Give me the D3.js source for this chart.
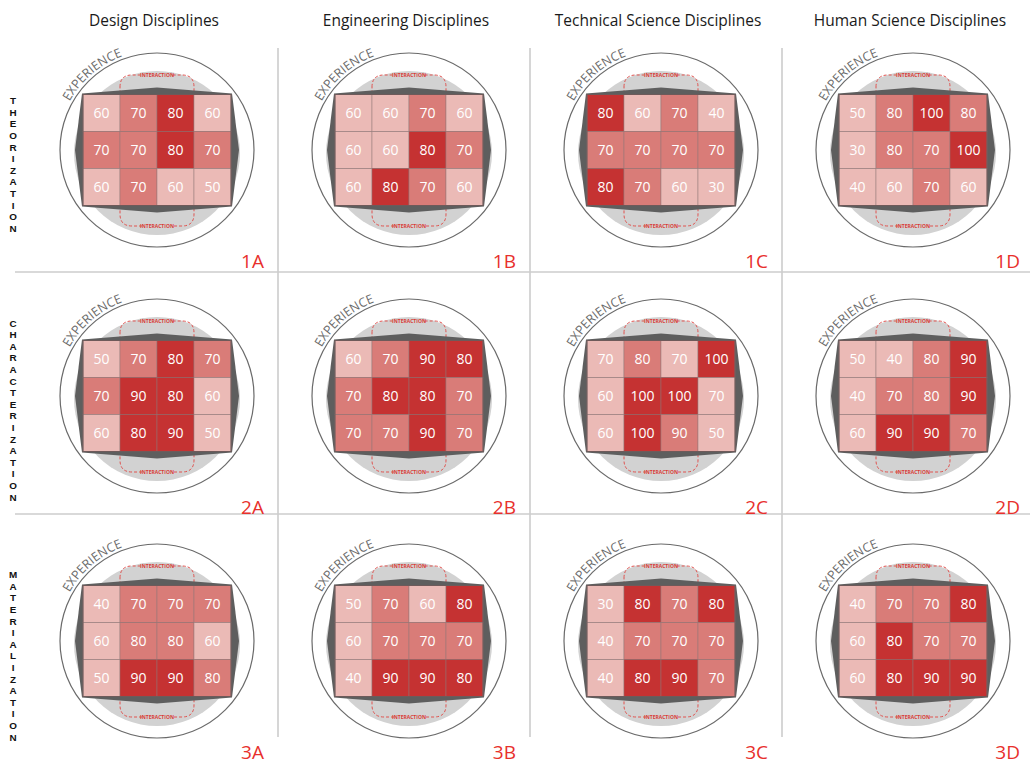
<!DOCTYPE html>
<html>
<head>
<meta charset="utf-8">
<script src="https://cdn.jsdelivr.net/npm/d3@7"></script>
<style>
  body { margin: 0; background: #fff; }
  svg { display: block; }
</style>
</head>
<body>
<div id="chart"></div>
<script>
var svgWidth = 1030;
var svgHeight = 765;

// Panel layout: columns = discipline, rows = phase
var disciplines = ["Design Disciplines", "Engineering Disciplines", "Technical Science Disciplines", "Human Science Disciplines"];
var colCodes = ["A", "B", "C", "D"];
var phases = ["THEORIZATION", "CHARACTERIZATION", "MATERIALIZATION"];
var rowCodes = ["1", "2", "3"];

// 4 x 3 grid inside each panel (row by row)
var gridCols = [0, 1, 2, 3];
var gridRows = [0, 1, 2];

var values1A = [60, 70, 80, 60, 70, 70, 80, 70, 60, 70, 60, 50];
var values1B = [60, 60, 70, 60, 60, 60, 80, 70, 60, 80, 70, 60];
var values1C = [80, 60, 70, 40, 70, 70, 70, 70, 80, 70, 60, 30];
var values1D = [50, 80, 100, 80, 30, 80, 70, 100, 40, 60, 70, 60];
var values2A = [50, 70, 80, 70, 70, 90, 80, 60, 60, 80, 90, 50];
var values2B = [60, 70, 90, 80, 70, 80, 80, 70, 70, 70, 90, 70];
var values2C = [70, 80, 70, 100, 60, 100, 100, 70, 60, 100, 90, 50];
var values2D = [50, 40, 80, 90, 40, 70, 80, 90, 60, 90, 90, 70];
var values3A = [40, 70, 70, 70, 60, 80, 80, 60, 50, 90, 90, 80];
var values3B = [50, 70, 60, 80, 60, 70, 70, 70, 40, 90, 90, 80];
var values3C = [30, 80, 70, 80, 40, 70, 70, 70, 40, 80, 90, 70];
var values3D = [40, 70, 70, 80, 60, 80, 70, 70, 60, 80, 90, 90];

// shading tiers per panel (order 1A..1D, 2A..2D, 3A..3D)
var midFrom  = [70, 70, 70, 70, 70, 70, 80, 70, 70, 70, 70, 70];
var darkFrom = [80, 80, 80, 100, 80, 80, 100, 90, 90, 80, 80, 80];

var panelValues = {
  "1A": values1A, "1B": values1B, "1C": values1C, "1D": values1D,
  "2A": values2A, "2B": values2B, "2C": values2C, "2D": values2D,
  "3A": values3A, "3B": values3B, "3C": values3C, "3D": values3D
};

var tierColors = ["#ebbab6", "#d97c78", "#c53232"];

var svg = d3.select("#chart")
  .append("svg")
  .attr("width", svgWidth)
  .attr("height", svgHeight);

var colScale = d3.scaleBand().domain(colCodes).range([26, 1034]);
var rowScale = d3.scaleBand().domain(rowCodes).range([28, 765]);

var cellSize = 37;

// separator lines
svg.selectAll(".vsep")
  .data(colCodes.slice(1))
  .enter()
  .append("line")
  .attr("x1", d => colScale(d))
  .attr("x2", d => colScale(d))
  .attr("y1", 48)
  .attr("y2", 737)
  .attr("stroke", "#c8c8c8")
  .attr("stroke-width", 1.5);

svg.selectAll(".hsep")
  .data([272, 514])
  .enter()
  .append("line")
  .attr("x1", 15)
  .attr("x2", 1030)
  .attr("y1", d => d)
  .attr("y2", d => d)
  .attr("stroke", "#cccccc")
  .attr("stroke-width", 1.5);

// column headers
svg.selectAll(".header")
  .data(disciplines)
  .enter()
  .append("text")
  .attr("x", (d, i) => colScale(colCodes[i]) + 128)
  .attr("y", 26)
  .attr("text-anchor", "middle")
  .attr("font-family", "'Open Sans', sans-serif")
  .attr("font-size", 15.5)
  .attr("fill", "#1a1a1a")
  .text(d => d);

// row labels (stacked letters)
phases.forEach(function(p, i) {
  var cy = rowScale(rowCodes[i]) + 122 + 14;
  var letters = p.split("");
  var step = 11.6;
  var top = cy - (letters.length - 1) * step / 2;
  svg.selectAll(".rl" + i)
    .data(letters)
    .enter()
    .append("text")
    .attr("x", 13)
    .attr("y", (d, j) => top + j * step + 4)
    .attr("text-anchor", "middle")
    .attr("font-family", "'Liberation Sans', Arial, sans-serif")
    .attr("font-weight", "bold")
    .attr("font-size", 9.9)
    .attr("fill", "#111")
    .text(d => d);
});

function polar(cx, cy, r, deg) {
  var a = (deg - 90) * Math.PI / 180;
  return [cx + r * Math.cos(a), cy + r * Math.sin(a)];
}

rowCodes.forEach(function(rc, ri) {
  colCodes.forEach(function(cc, ci) {
    var key = rc + cc;
    var vals = panelValues[key];
    var idx = ri * 4 + ci;
    var cx = colScale(cc) + 131;
    var cy = Math.round(rowScale(rc) + 122);

    var g = svg.append("g");

    var x = d3.scaleBand().domain(gridCols).range([cx - 2 * cellSize, cx + 2 * cellSize]);
    var y = d3.scaleBand().domain(gridRows).range([cy - 1.5 * cellSize, cy + 1.5 * cellSize]);
    var color = d3.scaleThreshold().domain([midFrom[idx], darkFrom[idx]]).range(tierColors);

    var x0 = x(0), x1 = x(3) + x.bandwidth();
    var y0 = y(0), y1 = y(2) + y.bandwidth();

    // outer circle
    g.append("circle")
      .attr("cx", cx).attr("cy", cy).attr("r", 97)
      .attr("fill", "#fff")
      .attr("stroke", "#6a6a6a")
      .attr("stroke-width", 1.2);

    // light gray disc
    g.append("ellipse")
      .attr("cx", cx).attr("cy", cy + 3)
      .attr("rx", 83).attr("ry", 82)
      .attr("fill", "#d2d2d2");

    // dashed interaction band (middle two columns)
    var bx0 = x(1), bx1 = x(2) + x.bandwidth();
    var by0 = cy - 75, by1 = cy + 76, rr = 12;
    g.append("path")
      .attr("d", `M${bx0},${by0 + rr} Q${bx0},${by0} ${bx0 + rr},${by0} L${bx1 - rr},${by0} Q${bx1},${by0} ${bx1},${by0 + rr}
                  L${bx1},${by1 - rr} Q${bx1},${by1} ${bx1 - rr},${by1} L${bx0 + rr},${by1} Q${bx0},${by1} ${bx0},${by1 - rr} Z`)
      .attr("fill", "none")
      .attr("stroke", "#e0524f")
      .attr("stroke-width", 1)
      .attr("stroke-dasharray", "3,2");

    [by0, by1].forEach(function(ty) {
      g.append("rect")
        .attr("x", cx - 15).attr("y", ty - 3)
        .attr("width", 30).attr("height", 6)
        .attr("fill", "#d2d2d2");
      g.append("text")
        .attr("x", cx).attr("y", ty + 2)
        .attr("text-anchor", "middle")
        .attr("font-family", "'Open Sans', sans-serif")
        .attr("font-weight", "bold")
        .attr("font-size", 5)
        .attr("fill", "#d93a36")
        .text("INTERACTION");
    });

    // dark frame behind the grid
    g.append("path")
      .attr("d", `M${x0 - 1},${y0 - 1} L${cx},${y0 - 7} L${x1 + 1},${y0 - 1} L${x1 + 8},${cy}
                  L${x1 + 1},${y1 + 1} L${cx},${y1 + 7} L${x0 - 1},${y1 + 1} L${x0 - 8},${cy} Z`)
      .attr("fill", "#5e5e5e");

    // cells
    var cells = vals.map((v, k) => ({ v: v, c: k % 4, r: Math.floor(k / 4) }));
    g.selectAll(".cell")
      .data(cells)
      .enter()
      .append("rect")
      .attr("x", d => x(d.c))
      .attr("y", d => y(d.r))
      .attr("width", x.bandwidth())
      .attr("height", y.bandwidth())
      .attr("fill", d => color(d.v))
      .attr("stroke", "#8e7878")
      .attr("stroke-opacity", 0.6)
      .attr("stroke-width", 0.8);

    g.append("rect")
      .attr("x", x0).attr("y", y0)
      .attr("width", x1 - x0).attr("height", y1 - y0)
      .attr("fill", "none")
      .attr("stroke", "#6e5a5a")
      .attr("stroke-width", 1);

    g.selectAll(".val")
      .data(cells)
      .enter()
      .append("text")
      .attr("x", d => x(d.c) + x.bandwidth() / 2)
      .attr("y", d => y(d.r) + y.bandwidth() / 2 + 5)
      .attr("text-anchor", "middle")
      .attr("font-family", "'Open Sans', sans-serif")
      .attr("font-size", 14)
      .attr("fill", "#fff")
      .text(d => d.v);

    // EXPERIENCE label along the circle
    var p0 = polar(cx, cy, 100, -61);
    var p1 = polar(cx, cy, 100, -2);
    g.append("path")
      .attr("id", "exp" + key)
      .attr("d", `M${p0[0]},${p0[1]} A100,100 0 0 1 ${p1[0]},${p1[1]}`)
      .attr("fill", "none");
    g.append("text")
      .attr("font-family", "'Open Sans', sans-serif")
      .attr("font-size", 12.5)
      .attr("fill", "#6a6a6a")
      .append("textPath")
      .attr("href", "#exp" + key)
      .text("EXPERIENCE");

    // panel code
    g.append("text")
      .attr("x", colScale(cc) + 238)
      .attr("y", cy + 118)
      .attr("text-anchor", "end")
      .attr("font-family", "'Open Sans', sans-serif")
      .attr("font-size", 19)
      .attr("fill", "#e8302c")
      .text(key);
  });
});
</script>
</body>
</html>
